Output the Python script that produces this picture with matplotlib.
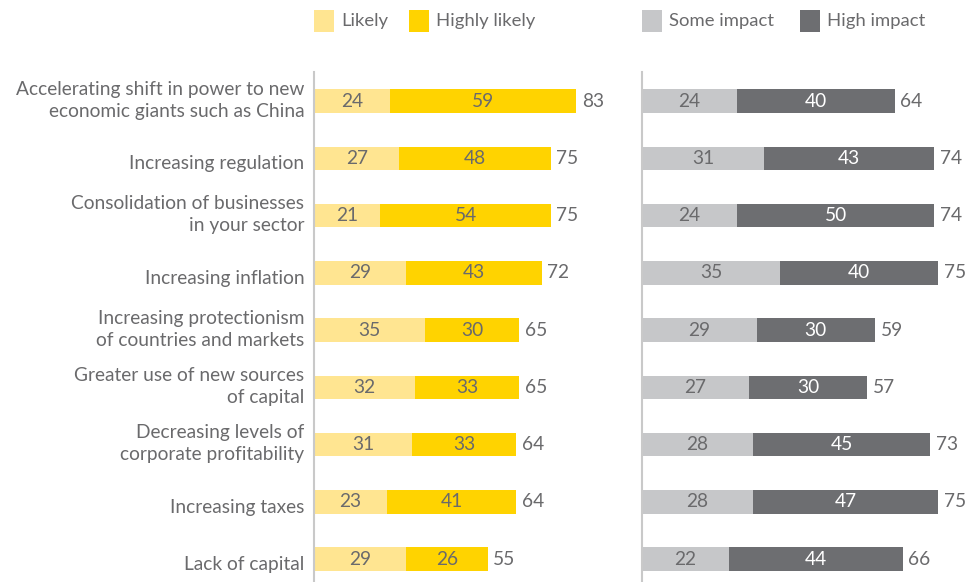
import numpy as np
import matplotlib
matplotlib.use("Agg")
import matplotlib.pyplot as plt
from matplotlib.patches import Rectangle
from matplotlib.transforms import ScaledTranslation

plt.rcParams["font.family"] = ["Lato", "DejaVu Sans"]

categories = [
    "Accelerating shift in power to new\neconomic giants such as China",
    "Increasing regulation",
    "Consolidation of businesses\nin your sector",
    "Increasing inflation",
    "Increasing protectionism\nof countries and markets",
    "Greater use of new sources\nof capital",
    "Decreasing levels of\ncorporate profitability",
    "Increasing taxes",
    "Lack of capital",
]
likely = [24, 27, 21, 29, 35, 32, 31, 23, 29]
highly_likely = [59, 48, 54, 43, 30, 33, 33, 41, 26]
likely_total = [83, 75, 75, 72, 65, 65, 64, 64, 55]
some_impact = [24, 31, 24, 35, 29, 27, 28, 28, 22]
high_impact = [40, 43, 50, 40, 30, 30, 45, 47, 44]
impact_total = [64, 74, 74, 75, 59, 57, 73, 75, 66]

C_LIKELY = "#FFE591"
C_HIGHLY = "#FFD300"
C_SOME = "#C6C7C9"
C_HIGH = "#6D6E71"
TXT = "#6A6A6C"
AXLINE = "#C9C9C9"
FS = 13.8      # category labels
FS_NUM = 13.8  # bar values
FS_LEG = 13.3

W, H = 975, 582
fig = plt.figure(figsize=(W / 100, H / 100), dpi=100)

def fx(px): return px / W
def fy(py): return 1 - py / H

top = 72
ax1 = fig.add_axes([fx(314), 0, fx(316), (H - top) / H])
ax2 = fig.add_axes([fx(642), 0, fx(316), (H - top) / H])

y = np.arange(len(categories))
bh = 0.41

def panel(ax, a, b, tot, xmax, ca, cb, tb):
    ax.barh(y, a, height=bh, color=ca, linewidth=0)
    ax.barh(y, b, left=a, height=bh, color=cb, linewidth=0)
    for i in range(len(y)):
        ax.text(a[i] / 2, y[i], str(a[i]), ha="center", va="center",
                fontsize=FS_NUM, color=TXT)
        ax.text(a[i] + b[i] / 2, y[i], str(b[i]), ha="center", va="center",
                fontsize=FS_NUM, color=tb)
        ax.text(a[i] + b[i] + xmax * 0.017, y[i], str(tot[i]), ha="left",
                va="center", fontsize=FS_NUM, color=TXT)
    ax.set_xlim(0, xmax)
    ax.set_ylim(8.4, -0.51)
    ax.set_xticks([])
    for s in ["top", "right", "bottom"]:
        ax.spines[s].set_visible(False)
    ax.spines["left"].set_color(AXLINE)
    ax.spines["left"].set_linewidth(1.5)
    ax.patch.set_alpha(0)

panel(ax1, likely, highly_likely, likely_total, 100, C_LIKELY, C_HIGHLY, TXT)
panel(ax2, some_impact, high_impact, impact_total, 80, C_SOME, C_HIGH, "white")

ax1.set_yticks(y)
ax1.set_yticklabels(categories, fontsize=FS, color=TXT)
ax1.tick_params(axis="y", length=0, pad=7)
# two-line labels sit a little high, single-line ones a little low
for t in ax1.get_yticklabels():
    t.set_linespacing(1.35)
    dy = 5 if "\n" in t.get_text() else -4
    t.set_transform(t.get_transform() + ScaledTranslation(0, dy / 100, fig.dpi_scale_trans))
ax2.set_yticks([])

# legend swatches along the top
legend = [(314, C_LIKELY, "Likely"), (409, C_HIGHLY, "Highly likely"),
          (642, C_SOME, "Some impact"), (800, C_HIGH, "High impact")]
for x0, c, lab in legend:
    fig.patches.append(Rectangle((fx(x0), fy(32)), fx(20), 22 / H,
                                 transform=fig.transFigure, color=c, lw=0))
    fig.text(fx(x0 + 27), fy(21), lab, ha="left", va="center",
             fontsize=FS_LEG, color=TXT)

fig.savefig("out.png", dpi=100)
